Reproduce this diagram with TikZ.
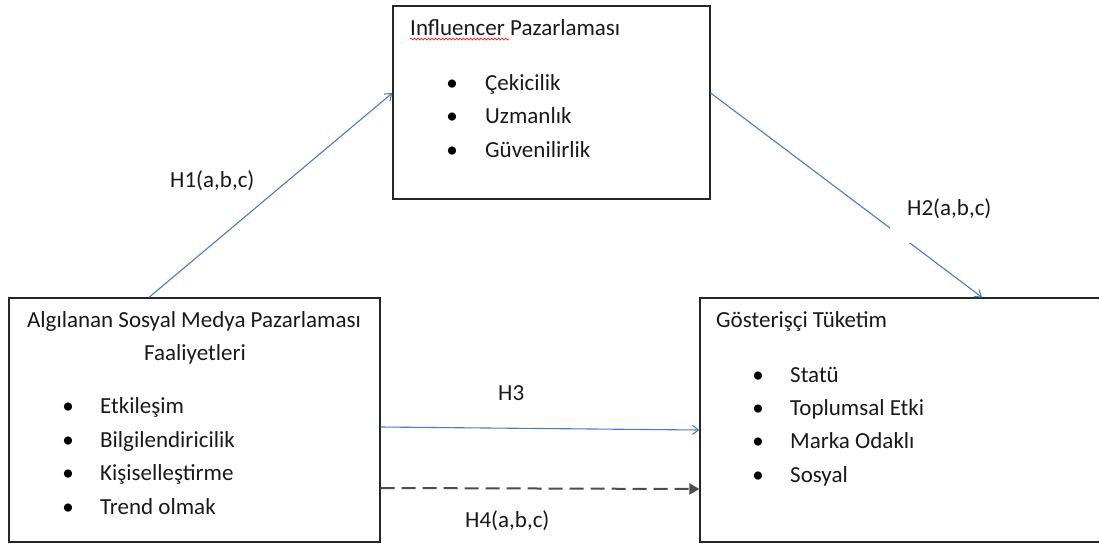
\documentclass[tikz,border=0pt]{standalone}
\usepackage{fontspec}
\setmainfont{Carlito}
\usetikzlibrary{arrows.meta,decorations.pathmorphing}
\definecolor{linkblue}{RGB}{74,126,187}
\begin{document}
\begin{tikzpicture}[x=1pt,y=-1pt,
  box/.style={draw=black!85,line width=1.3pt,rectangle,inner sep=0pt},
  txt/.style={anchor=base west,inner sep=0pt,font=\fontsize{23}{27}\selectfont,text=black!90},
  blt/.style={anchor=base,inner sep=0pt,font=\fontsize{23}{27}\selectfont},
  ctr/.style={anchor=base,inner sep=0pt,font=\fontsize{23}{27}\selectfont,text=black!90},
  link/.style={draw=linkblue,line width=1.1pt,-{Straight Barb[length=6pt,width=9pt]}},
  dlink/.style={draw=black!70,line width=2pt,dash pattern=on 14pt off 7pt,-{Triangle[length=10pt,width=11pt]}},
  lbl/.style={inner sep=0pt,font=\fontsize{23}{27}\selectfont,text=black!90}
]
\useasboundingbox (0,0) rectangle (1099,544);

% boxes
\node[box,minimum width=317pt,minimum height=193pt] (T) at (551.5,102.5) {};
\node[box,minimum width=371pt,minimum height=244pt] (L) at (194.5,420) {};
\node[box,minimum width=420pt,minimum height=244pt] (R) at (910,420) {};

% top box text
\node[txt] (t0) at (410,35) {Influencer Pazarlaması};
\draw[red,line width=0.6pt,decorate,decoration={snake,amplitude=1pt,segment length=3.5pt}]
  (t0.base west)++(0,4) -- ++(99,0);
\node[blt] (tb1) at (452,90) {\textbullet};
\node[txt] (t1) at (485,90) {Çekicilik};
\node[blt] (tb2) at (452,123) {\textbullet};
\node[txt] (t2) at (485,123) {Uzmanlık};
\node[blt] (tb3) at (452,157) {\textbullet};
\node[txt] (t3) at (485,157) {Güvenilirlik};

% left box text
\node[ctr] (l0) at (194,327) {Algılanan Sosyal Medya Pazarlaması};
\node[ctr] (l00) at (195,360) {Faaliyetleri};
\node[blt] (lb1) at (68,413) {\textbullet};
\node[txt] (l1) at (100,413) {Etkileşim};
\node[blt] (lb2) at (68,447) {\textbullet};
\node[txt] (l2) at (100,447) {Bilgilendiricilik};
\node[blt] (lb3) at (68,480) {\textbullet};
\node[txt] (l3) at (100,480) {Kişiselleştirme};
\node[blt] (lb4) at (68,514) {\textbullet};
\node[txt] (l4) at (100,514) {Trend olmak};

% right box text
\node[txt] (r0) at (716,327) {Gösterişçi Tüketim};
\node[blt] (rb1) at (758,382) {\textbullet};
\node[txt] (r1) at (790,382) {Statü};
\node[blt] (rb2) at (758,415) {\textbullet};
\node[txt] (r2) at (790,415) {Toplumsal Etki};
\node[blt] (rb3) at (758,448) {\textbullet};
\node[txt] (r3) at (790,448) {Marka Odaklı};
\node[blt] (rb4) at (758,482) {\textbullet};
\node[txt] (r4) at (790,482) {Sosyal};

% connectors
\draw[link] ([xshift=-45.5pt]L.north) -- ([yshift=9.5pt]T.west);
\draw[link] ([yshift=9.5pt]T.east) -- ([xshift=72pt]R.north);
\draw[link] ([yshift=-7pt]L.east) -- ([yshift=-10pt]R.west);
\draw[dlink] ([yshift=-68pt]L.east) -- ([yshift=-69pt]R.west);

% labels
\node[lbl,anchor=base west] (h1) at (170,187) {H1(a,b,c)};
\node[lbl,anchor=base west,fill=white,inner xsep=17pt,inner ysep=0pt,text depth=28pt,text height=30pt] (h2) at (890,215) {H2(a,b,c)};
\node[lbl,anchor=base west] (h3) at (498,400) {H3};
\node[lbl,anchor=base west] (h4) at (465,527) {H4(a,b,c)};
\end{tikzpicture}
\end{document}
